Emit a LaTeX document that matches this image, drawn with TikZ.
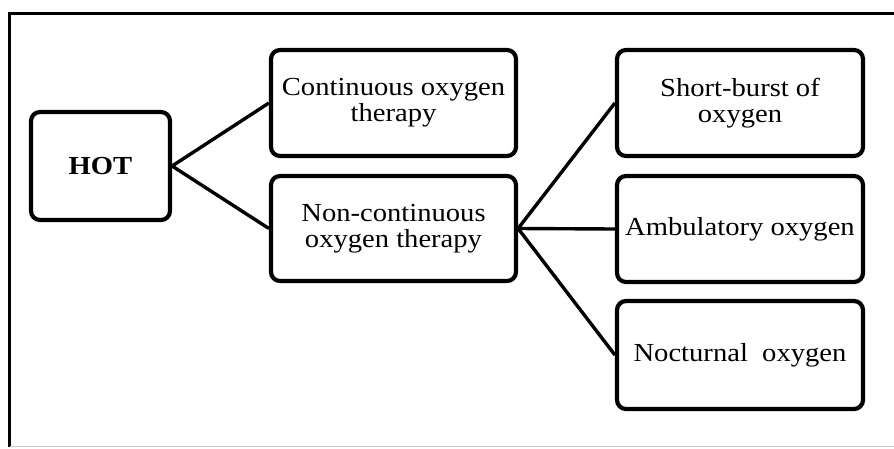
\documentclass[tikz,border=0pt]{standalone}
\usepackage{fontspec}
\setmainfont{Liberation Serif}[FakeStretch=1.1]
\begin{document}
\begin{tikzpicture}[x=1pt,y=-1pt,
  box/.style={draw=black,line width=4.2pt,rounded corners=9pt,align=center,
    inner sep=0pt,font=\fontsize{26}{26}\selectfont},
  link/.style={draw=black,line width=3.4pt},
  frame/.style={draw=black,line width=3pt}]
\useasboundingbox (0,0) rectangle (894,448);
\fill[white] (0,0) rectangle (894,448);
% outer frame
\coordinate (ftr) at (894,13);
\coordinate (ftl) at (9.5,13);
\coordinate (fbl) at (9.5,446.5);
\coordinate (fbr) at (894,446.5);
\draw[frame] (ftr) -- (ftl) -- (fbl);
\draw[draw=black!20,line width=1.5pt] (fbl) -- (fbr);
% nodes
\node[box,minimum width=139pt,minimum height=108pt,font=\fontsize{26}{26}\selectfont\bfseries] (hot) at (100.5,166) {HOT};
\node[box,minimum width=245pt,minimum height=106pt] (cont) at (393.5,103) {Continuous oxygen\\therapy};
\node[box,minimum width=245pt,minimum height=105pt] (ncont) at (393.5,228.5) {Non-continuous\\oxygen therapy};
\node[box,minimum width=246pt,minimum height=106pt] (short) at (740,103) {Short-burst of\\oxygen};
\node[box,minimum width=246pt,minimum height=106pt] (amb) at (740,229) {Ambulatory oxygen};
\node[box,minimum width=246pt,minimum height=108pt] (noct) at (740,355) {Nocturnal\ \ oxygen};
% connectors
\draw[link] (hot.east) -- (cont.west);
\draw[link] (hot.east) -- (ncont.west);
\draw[link] (ncont.east) -- (short.west);
\draw[link] (ncont.east) -- (amb.west);
\draw[link] (ncont.east) -- (noct.west);
\end{tikzpicture}
\end{document}
